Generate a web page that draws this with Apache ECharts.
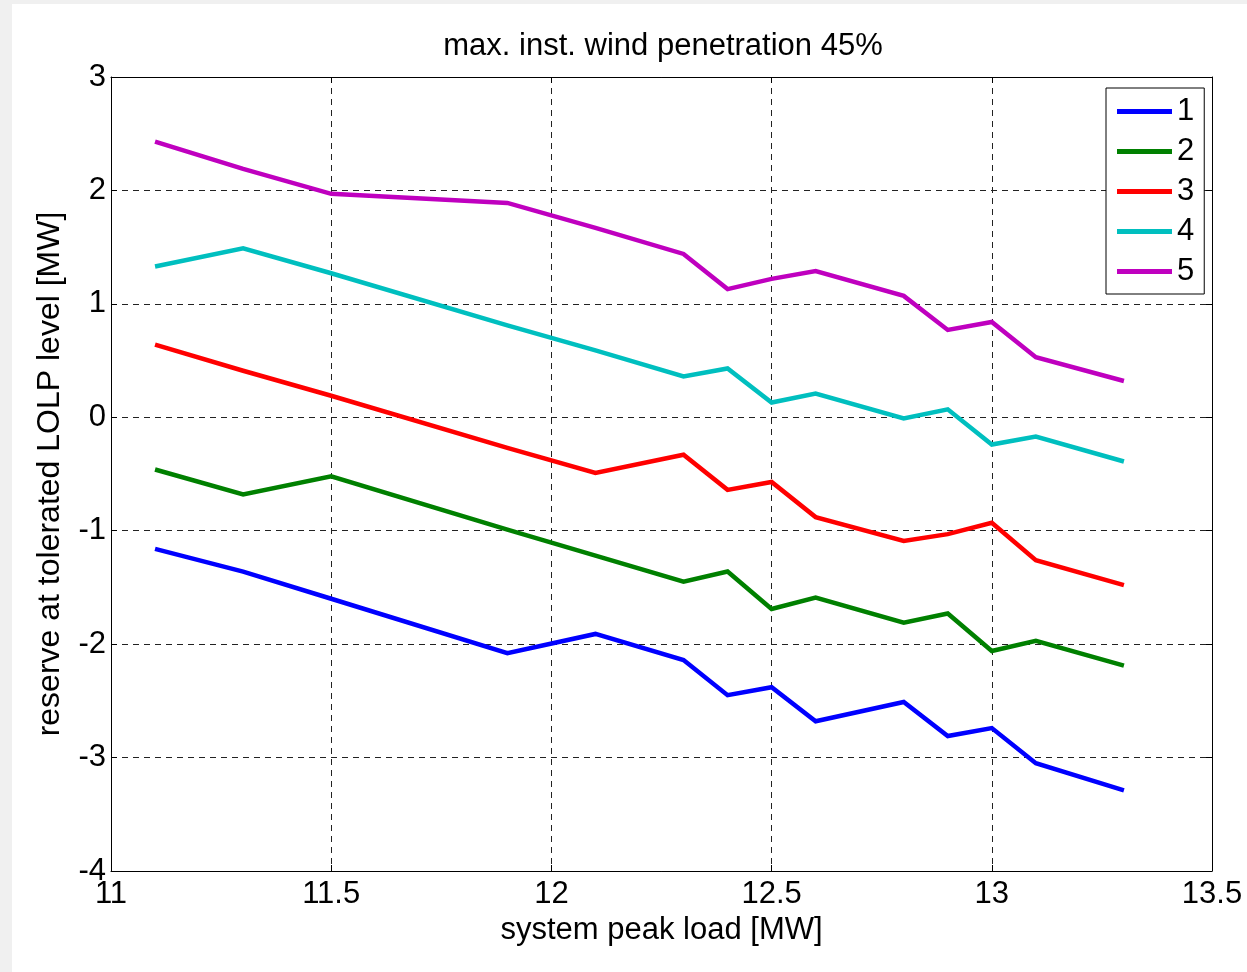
<!DOCTYPE html>
<html>
<head>
<meta charset="utf-8">
<script src="https://cdn.jsdelivr.net/npm/echarts@6/dist/echarts.min.js"></script>
<style>
  html, body { margin: 0; padding: 0; background: #f0f0f0; width: 1247px; height: 972px; overflow: hidden; }
  #chart { position: absolute; left: 12px; top: 4px; width: 1235px; height: 968px; background: #ffffff; }
</style>
</head>
<body>
<div id="chart"></div>
<script>
// ---- data ----
const loads = [11.1, 11.3, 11.5, 11.9, 12.1, 12.3, 12.4, 12.5, 12.6, 12.8, 12.9, 13.0, 13.1, 13.3];
const seriesNames = ['1', '2', '3', '4', '5'];
const reserve1 = [-1.16, -1.36, -1.60, -2.08, -1.91, -2.14, -2.45, -2.38, -2.68, -2.51, -2.81, -2.74, -3.05, -3.29];
const reserve2 = [-0.46, -0.68, -0.52, -0.99, -1.22, -1.45, -1.36, -1.69, -1.59, -1.81, -1.73, -2.06, -1.97, -2.19];
const reserve3 = [0.64, 0.41, 0.19, -0.27, -0.49, -0.33, -0.64, -0.57, -0.88, -1.09, -1.03, -0.93, -1.26, -1.48];
const reserve4 = [1.33, 1.49, 1.27, 0.81, 0.59, 0.36, 0.43, 0.13, 0.21, -0.01, 0.07, -0.24, -0.17, -0.39];
const reserve5 = [2.43, 2.19, 1.97, 1.89, 1.67, 1.44, 1.13, 1.22, 1.29, 1.07, 0.77, 0.84, 0.53, 0.32];
const xTicks = [11, 11.5, 12, 12.5, 13, 13.5];
const yTicks = [-4, -3, -2, -1, 0, 1, 2, 3];

const colors = ['#0000ff', '#008000', '#ff0000', '#00bfbf', '#bf00bf'];
const allValues = [reserve1, reserve2, reserve3, reserve4, reserve5];

const FONT = '"Liberation Sans", Arial, Helvetica, sans-serif';
const FS = 31;

const chart = echarts.init(document.getElementById('chart'), null, { renderer: 'canvas' });

const gridLine = { show: true, lineStyle: { color: '#222', type: [6, 5], width: 1 } };

const option = {
  animation: false,
  backgroundColor: '#ffffff',
  color: colors,
  title: {
    text: 'max. inst. wind penetration 45%',
    left: 646,
    top: 22,
    textAlign: 'center',
    textStyle: { fontFamily: FONT, fontSize: FS, fontWeight: 'normal', color: '#000' }
  },
  grid: { left: 99, top: 73, right: 35, bottom: 101, containLabel: false, show: false },
  legend: {
    orient: 'vertical',
    left: 1094,
    top: 84,
    icon: 'rect',
    itemWidth: 55,
    itemHeight: 5,
    itemGap: 9,
    padding: [8, 10, 7, 11],
    borderColor: '#000',
    borderWidth: 1,
    backgroundColor: '#fff',
    textStyle: { fontFamily: FONT, fontSize: FS, color: '#000', lineHeight: 30 },
    data: seriesNames
  },
  xAxis: [
    {
      type: 'value', min: xTicks[0], max: xTicks[xTicks.length - 1], interval: 0.5,
      position: 'bottom',
      name: 'system peak load [MW]', nameLocation: 'middle', nameGap: 42,
      nameTextStyle: { fontFamily: FONT, fontSize: FS, color: '#000' },
      axisLine: { show: true, onZero: false, lineStyle: { color: '#000', width: 1 } },
      axisTick: { show: true, inside: true, length: 6, lineStyle: { color: '#000' } },
      axisLabel: { fontFamily: FONT, fontSize: FS, color: '#000', margin: 8 },
      splitLine: gridLine
    },
    {
      type: 'value', min: xTicks[0], max: xTicks[xTicks.length - 1], interval: 0.5,
      position: 'top',
      axisLine: { show: true, onZero: false, lineStyle: { color: '#000', width: 1 } },
      axisTick: { show: true, inside: true, length: 6, lineStyle: { color: '#000' } },
      axisLabel: { show: false },
      splitLine: { show: false }
    }
  ],
  yAxis: [
    {
      type: 'value', min: yTicks[0], max: yTicks[yTicks.length - 1], interval: 1,
      position: 'left',
      name: 'reserve at tolerated LOLP level [MW]', nameLocation: 'middle', nameGap: 45,
      nameTextStyle: { fontFamily: FONT, fontSize: 32, color: '#000' },
      axisLine: { show: true, onZero: false, lineStyle: { color: '#000', width: 1 } },
      axisTick: { show: true, inside: true, length: 6, lineStyle: { color: '#000' } },
      axisLabel: { fontFamily: FONT, fontSize: FS, color: '#000', margin: 5 },
      splitLine: gridLine
    },
    {
      type: 'value', min: yTicks[0], max: yTicks[yTicks.length - 1], interval: 1,
      position: 'right',
      axisLine: { show: true, onZero: false, lineStyle: { color: '#000', width: 1 } },
      axisTick: { show: true, inside: true, length: 6, lineStyle: { color: '#000' } },
      axisLabel: { show: false },
      splitLine: { show: false }
    }
  ],
  series: seriesNames.map((name, i) => ({
    name: name,
    type: 'line',
    xAxisIndex: 0,
    yAxisIndex: 0,
    data: loads.map((x, j) => [x, allValues[i][j]]),
    showSymbol: false,
    symbol: 'none',
    lineStyle: { width: 4.5, color: colors[i], join: 'miter' },
    itemStyle: { color: colors[i] },
    z: 3
  }))
};

chart.setOption(option);
</script>
</body>
</html>
